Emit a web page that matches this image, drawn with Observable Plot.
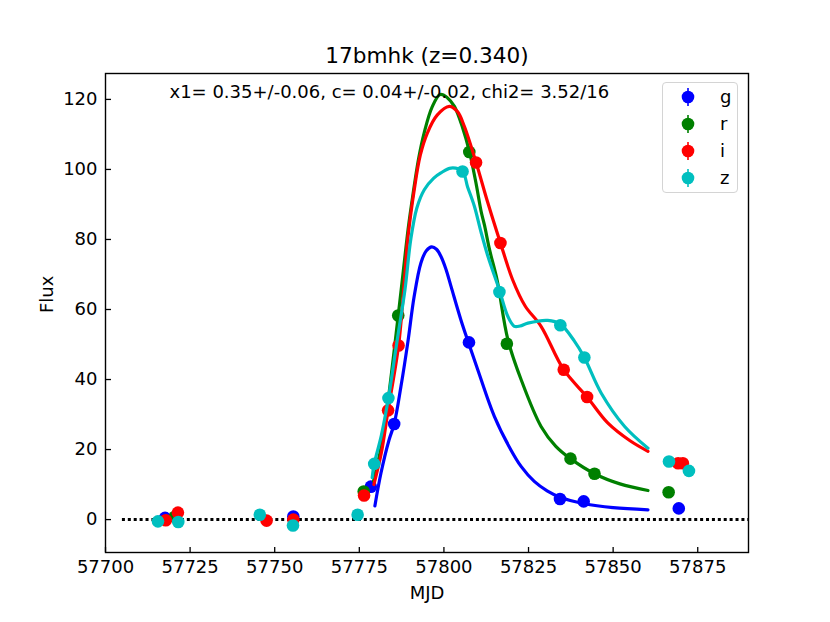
<!DOCTYPE html>
<html><head><meta charset="utf-8">
<script src="https://cdn.jsdelivr.net/npm/d3@7"></script>
<script src="https://cdn.jsdelivr.net/npm/@observablehq/plot@0.6"></script>
<style>
body{margin:0;background:#fff;font-family:"DejaVu Sans",sans-serif;}
#wrap{position:relative;width:830px;height:622px;overflow:hidden;}
#legend{position:absolute;left:662px;top:82px;width:76px;height:111px;box-sizing:border-box;border:1.3px solid #d4d4d4;border-radius:4px;background:rgba(255,255,255,0.8);}
#legend svg{position:absolute;left:-1px;top:-1px;overflow:visible;}
</style></head><body>
<div id="wrap"><div id="chart"></div><div id="legend"></div></div>
<script>
const titleText = "17bmhk (z=0.340)";
const fitText = "x1= 0.35+/-0.06, c= 0.04+/-0.02, chi2= 3.52/16";
const xLabel = "MJD";
const yLabel = "Flux";
const bands = ["g", "r", "i", "z"];
const bandColors = ["#0000ff", "#008000", "#ff0000", "#00bfbf"];
const xDomain = [57700, 57890];
const yDomain = [-9.4, 127.4];
const xTicks = [57700, 57725, 57750, 57775, 57800, 57825, 57850, 57875];
const yTicks = [0, 20, 40, 60, 80, 100, 120];
const zeroLineFrom = 57705;

// observed points
const gMJD  = [57717.6, 57755.5, 57778.4, 57785.3, 57807.4, 57834.3, 57841.3, 57869.4];
const gFlux = [0.5, 0.9, 9.4, 27.3, 50.6, 5.9, 5.2, 3.2];
const rMJD  = [57720.5, 57776.3, 57786.5, 57807.5, 57818.6, 57837.4, 57844.5, 57866.4];
const rFlux = [0.8, 8.0, 58.3, 105.0, 50.2, 17.4, 13.1, 7.8];
const iMJD  = [57717.8, 57721.4, 57747.6, 57755.5, 57776.4, 57783.5, 57786.6, 57809.5, 57816.7, 57835.4, 57842.3, 57869.2, 57870.6];
const iFlux = [-0.2, 2.0, -0.3, 0.0, 6.9, 31.2, 49.7, 102.0, 79.0, 42.8, 35.0, 16.1, 16.1];
const zMJD  = [57715.5, 57721.5, 57745.6, 57755.4, 57774.5, 57779.4, 57783.6, 57805.5, 57816.4, 57834.4, 57841.5, 57866.5, 57872.4];
const zFlux = [-0.5, -0.7, 1.4, -1.7, 1.4, 15.9, 34.7, 99.4, 65.0, 55.5, 46.3, 16.6, 13.9];

// model curves
const gModelMJD  = [57779.6, 57781.4, 57783.8, 57785.3, 57787.3, 57789.3, 57791.2, 57793.2, 57794.8, 57796.4, 57797.8, 57799.1, 57800.6, 57802.1, 57805.0, 57807.3, 57810.0, 57814.9, 57819.8, 57822.8, 57826.7, 57830.5, 57834.3, 57841.3, 57850.0, 57860.3];
const gModelFlux = [3.9, 13.3, 22.8, 27.3, 38.0, 50.4, 63.7, 73.3, 76.8, 77.9, 77.2, 75.2, 71.5, 66.6, 57.1, 50.4, 42.8, 29.5, 19.9, 15.2, 10.9, 8.2, 6.4, 4.6, 3.4, 2.8];
const rModelMJD  = [57779.2, 57781.5, 57783.5, 57786.5, 57788.0, 57789.4, 57790.8, 57792.5, 57794.2, 57796.5, 57798.9, 57801.0, 57803.1, 57805.5, 57807.5, 57809.5, 57811.0, 57812.0, 57813.5, 57815.7, 57818.9, 57822.8, 57828.7, 57833.0, 57837.4, 57844.5, 57852.0, 57860.3];
const rModelFlux = [11, 21, 34, 58.3, 71, 82.8, 92.5, 103, 110.6, 117.8, 121.4, 120.5, 118, 112, 105.2, 96, 88, 84, 77, 68.5, 51.4, 40, 26.6, 21, 17.4, 13.1, 10.2, 8.3];
const iModelMJD  = [57779.3, 57781.5, 57783.5, 57786.6, 57788.3, 57789.3, 57791.2, 57793.0, 57795.1, 57798.0, 57801.6, 57804.0, 57806.0, 57809.5, 57813.0, 57816.7, 57820.3, 57824.0, 57828.7, 57835.4, 57842.3, 57848.4, 57855.0, 57860.3];
const iModelFlux = [10, 19, 31.2, 49.7, 68, 80, 94, 104, 110.4, 115.5, 118, 116.5, 112.4, 102, 90.4, 79, 68.5, 61, 55.2, 42.8, 35, 27.6, 22.5, 19.5];
const zModelMJD  = [57778.8, 57779.4, 57781.5, 57783.6, 57786.0, 57788.5, 57790.2, 57792.0, 57794.2, 57797.0, 57799.1, 57802.1, 57805.5, 57807.0, 57809.0, 57811.0, 57813.0, 57816.4, 57818.9, 57820.8, 57822.5, 57824.8, 57830.7, 57834.4, 57838.6, 57841.5, 57846.5, 57853.4, 57860.3];
const zModelFlux = [12, 15.9, 24, 34.7, 50, 65.7, 80, 89, 94.2, 97.5, 99, 100.4, 99.4, 95, 89.5, 82, 75.2, 65.5, 58, 55.2, 55.3, 56.1, 56.9, 55.8, 50.9, 46.3, 36.1, 26.6, 20.4];

const obs = [[gMJD, gFlux], [rMJD, rFlux], [iMJD, iFlux], [zMJD, zFlux]];
const models = [[gModelMJD, gModelFlux], [rModelMJD, rModelFlux], [iModelMJD, iModelFlux], [zModelMJD, zModelFlux]];
const toRows = ([xs, ys]) => xs.map((x, k) => ({x, y: ys[k]}));

const bandMarks = [];
bands.forEach((b, k) => {
  bandMarks.push(Plot.line(toRows(models[k]), {x: "x", y: "y", stroke: bandColors[k], strokeWidth: 3.2, curve: "catmull-rom"}));
  bandMarks.push(Plot.dot(toRows(obs[k]), {x: "x", y: "y", r: 6.3, fill: bandColors[k], stroke: "none"}));
});

const chart = Plot.plot({
  width: 830, height: 622,
  marginLeft: 105, marginRight: 82, marginTop: 73, marginBottom: 70,
  x: {domain: xDomain},
  y: {domain: yDomain},
  style: {fontFamily: "'DejaVu Sans', sans-serif", fontSize: "18px", color: "#000", background: "#fff", overflow: "visible"},
  marks: [
    Plot.ruleY([0], {x1: zeroLineFrom, x2: xDomain[1], stroke: "black", strokeWidth: 3, strokeDasharray: "3,2.9"}),
    ...bandMarks,
    Plot.axisX({ticks: xTicks, tickSize: 0, tickPadding: 8, tickFormat: "d", label: null}),
    Plot.axisY({ticks: yTicks, tickSize: 0, tickPadding: 8, tickFormat: "d", label: null}),
    Plot.tickX(xTicks, {x: d => d, insetTop: 474, stroke: "black", strokeWidth: 1.3}),
    Plot.tickY(yTicks, {y: d => d, insetRight: 637, stroke: "black", strokeWidth: 1.3}),
    Plot.frame({stroke: "black", strokeWidth: 1.4}),
    Plot.text([titleText], {frameAnchor: "top", dy: -11, lineAnchor: "bottom", fontSize: 21.6}),
    Plot.text([fitText], {frameAnchor: "top-left", dx: 64, dy: 24, textAnchor: "start", lineAnchor: "bottom", fontSize: 18}),
    Plot.text([yLabel], {frameAnchor: "left", dx: -58, rotate: -90, fontSize: 18}),
    Plot.text([xLabel], {frameAnchor: "bottom", dy: 46, lineAnchor: "bottom", fontSize: 18})
  ]
});
document.getElementById("chart").appendChild(chart);

// legend
const leg = d3.select("#legend").append("svg").attr("width", 76).attr("height", 111)
  .style("font-family", "'DejaVu Sans', sans-serif").style("font-size", "18px");
bands.forEach((b, k) => {
  const cy = 15 + k * 27;
  const g = leg.append("g");
  g.append("line").attr("x1", 26).attr("x2", 26).attr("y1", cy - 9).attr("y2", cy + 9)
    .attr("stroke", bandColors[k]).attr("stroke-width", 1.6);
  g.append("circle").attr("cx", 26).attr("cy", cy).attr("r", 6.3).attr("fill", bandColors[k]);
  g.append("text").attr("x", 58).attr("y", cy + 6).text(b);
});
</script>
</body></html>
